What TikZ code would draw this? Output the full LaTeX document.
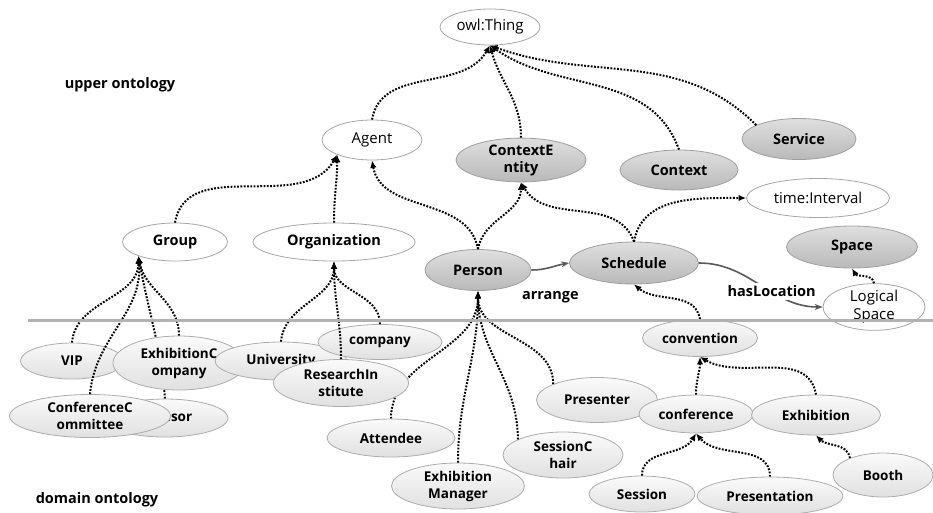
\documentclass[tikz,border=0pt]{standalone}
\usepackage{fontspec}
\setmainfont{Open Sans}
\usepackage{tikz}
\usetikzlibrary{shapes, arrows.meta, positioning, backgrounds}

\begin{document}
\begin{tikzpicture}[x=1pt, y=1pt]
    % Define styles
    \tikzset{
        concept/.style={
            ellipse,
            inner sep=0pt,
            align=center,
            anchor=center,
            line width=0.8pt
        },
        dims/.style 2 args={minimum width=#1pt, minimum height=#2pt},
        top plain/.style={concept, draw=gray!70, fill=white, font=\fontsize{15}{18}\selectfont},
        top bold/.style={concept, draw=gray!70, fill=white, font=\fontsize{14.5}{17}\selectfont\bfseries},
        top dark/.style={concept, draw=gray!75, top color=gray!25, bottom color=gray!55, font=\fontsize{14.5}{17}\selectfont\bfseries},
        domain class/.style={concept, draw=gray!65, top color=gray!4, bottom color=gray!24, font=\fontsize{13.5}{17}\selectfont\bfseries},
        isa/.style={-{Latex[length=7.5pt, width=6.5pt]}, line width=2pt, dash pattern=on 1.8pt off 1.5pt},
        relation/.style={-{Stealth[length=8pt, width=6pt]}, line width=1.6pt, draw=gray!70!black},
        label style/.style={font=\fontsize{14.5}{17}\selectfont\bfseries}
    }

    \useasboundingbox (0,0) rectangle (933,-512);

    % Upper ontology
    \node[top plain, dims={100}{36}] (thing) at (490,-27) {owl:Thing};
    \node[top plain, dims={100}{40}] (agent) at (372,-140) {Agent};
    \node[top bold, dims={105}{38}] (group) at (175,-242) {Group};
    \node[top bold, dims={162}{38}] (org) at (334,-242) {Organization};
    \node[top dark, dims={130}{40}] (centity) at (521,-160) {ContextE\\ntity};
    \node[top dark, dims={118}{40}] (context) at (679,-170) {Context};
    \node[top dark, dims={114}{41}] (service) at (799,-139) {Service};
    \node[top plain, dims={143}{39}] (interval) at (818,-198) {time:Interval};
    \node[top dark, dims={131}{42}] (space) at (852,-247) {Space};
    \node[top dark, dims={106}{41}] (person) at (478,-270) {Person};
    \node[top dark, dims={129}{42}] (sched) at (634,-263) {Schedule};
    \node[top plain, dims={102}{39}] (lspace) at (874,-307) {Logical\\Space};

    \node[label style] (upper) at (120,-85) {upper ontology};

    % Domain ontology
    \node[domain class, dims={103}{36}] (vip) at (72,-361) {VIP};
    \node[domain class, dims={132}{54}] (excomp) at (179,-363) {ExhibitionC\\ompany};
    \node[domain class, dims={132}{38}] (univ) at (281,-361) {University};
    \node[domain class, dims={124}{35}] (company) at (380,-342) {company};
    \node[domain class, dims={135}{47}] (rinst) at (341,-383) {ResearchIn\\stitute};
    \node[domain class, dims={126}{38}] (sponsor) at (165,-418) {Sponsor};
    \node[domain class, dims={161}{43}] (ccomm) at (90,-416) {ConferenceC\\ommittee};
    \node[domain class, dims={128}{38}] (attendee) at (391,-438) {Attendee};
    \node[domain class, dims={133}{46}] (exman) at (458,-486) {Exhibition\\Manager};
    \node[domain class, dims={120}{46}] (schair) at (563,-455) {SessionC\\hair};
    \node[domain class, dims={121}{45}] (presenter) at (597,-400) {Presenter};
    \node[domain class, dims={114}{38}] (conf) at (696,-414) {conference};
    \node[domain class, dims={129}{40}] (exhib) at (816,-415) {Exhibition};
    \node[domain class, dims={115}{37}] (conv) at (700,-338) {convention};
    \node[domain class, dims={100}{44}] (booth) at (883,-475) {Booth};
    \node[domain class, dims={106}{36}] (session) at (642,-494) {Session};
    \node[domain class, dims={146}{38}] (present) at (770,-496) {Presentation};

    \node[label style] (domainlbl) at (97,-500) {domain ontology};

    % is-a links of the upper ontology
    \draw[isa] (agent.north) to[out=80, in=-120] (thing.south);
    \draw[isa] (centity.north) to[out=90, in=-75] (thing.south);
    \draw[isa] (context.north) to[out=110, in=-35] (thing.south);
    \draw[isa] (service.162) to[out=135, in=-20] (thing.south);
    \draw[isa] (group.north) to[out=80, in=-120] (agent.203);
    \draw[isa] (org.north) to[out=90, in=-90] (agent.203);
    \draw[isa] (person.north) to[out=100, in=-80] (agent.south);
    \draw[isa] (person.north) to[out=80, in=-90] (centity.south);
    \draw[isa] (sched.north) to[out=110, in=-60] (centity.south);
    \draw[isa] (sched.north) to[out=80, in=180] (interval.west);
    \draw[isa] (lspace.north) to[out=100, in=-60] (space.south);

    % Relations
    \draw[relation] (person.east) to[out=0, in=190]
        node[label style, below=20pt] (arrange) {arrange} (sched.west);
    \draw[relation] (sched.east) to[out=0, in=180]
        node[label style, fill=white, pos=0.6] (hasloc) {hasLocation} (lspace.west);

    % is-a links of the domain ontology
    \draw[isa] (vip.north) to[out=85, in=-90] (group.201);
    \draw[isa] (ccomm.north) to[out=85, in=-85] (group.201);
    \draw[isa] (excomp.north) to[out=90, in=-80] (group.201);
    \draw[isa] (univ.north) to[out=85, in=-90] (org.south);
    \draw[isa] (rinst.north) to[out=90, in=-90] (org.south);
    \draw[isa] (company.north) to[out=90, in=-90] (org.south);
    \draw[isa] (exman.north) to[out=90, in=-90] (person.south);
    \draw[isa] (schair.161) to[out=90, in=-90] (person.south);
    \draw[isa] (presenter.160) to[out=90, in=-90] (person.south);
    \draw[isa] (conv.north) to[out=100, in=-40] (sched.south);
    \draw[isa] (conf.north) to[out=90, in=-90] (conv.south);
    \draw[isa] (exhib.north) to[out=100, in=-30] (conv.south);
    \draw[isa] (session.north) to[out=90, in=-120] (conf.south);
    \draw[isa] (present.north) to[out=90, in=-50] (conf.south);
    \draw[isa] (booth.153) to[out=100, in=-45] (exhib.south);

    % links hidden behind other classes
    \begin{scope}[on background layer]
        \draw[isa] (sponsor.north) to[out=95, in=-80] (group.201);
        \draw[isa] (attendee.north) to[out=90, in=-90] (person.south);
    \end{scope}

    % Border between the two ontologies
    \draw[line width=3pt, gray!60] (28,-320) -- (933,-320);

\end{tikzpicture}
\end{document}
